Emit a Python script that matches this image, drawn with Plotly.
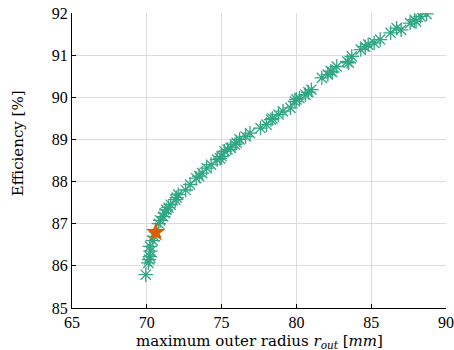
import plotly.graph_objects as go

r_out = [69.93, 70.1, 70.15, 70.2, 70.25, 70.2, 70.4, 70.5, 70.8, 70.9, 71.1, 71.2, 71.3, 71.45, 71.6, 71.9, 72.0, 72.1, 72.6, 72.9,
         73.3, 73.5, 73.7, 74.0, 74.3, 74.7, 74.9, 75.0, 75.2, 75.4, 75.6, 75.9, 76.0, 76.2, 76.6, 76.9,
         77.6, 78.0, 78.3, 78.4, 78.8, 79.1, 79.6, 79.9, 80.0, 80.2, 80.6, 80.8, 81.0,
         81.7, 82.1, 82.3, 82.4, 82.7, 83.4, 83.5, 83.7, 84.3, 84.6, 84.8, 85.2, 85.6,
         86.3, 86.7, 87.0, 87.6, 87.9, 88.0, 88.3, 88.7]
efficiency = [85.79, 86.07, 86.15, 86.22, 86.35, 86.46, 86.6, 86.7, 87.0, 87.08, 87.17, 87.25, 87.33, 87.38, 87.45, 87.57, 87.62, 87.69, 87.8, 87.93,
              88.08, 88.13, 88.2, 88.32, 88.4, 88.52, 88.55, 88.6, 88.72, 88.76, 88.8, 88.88, 88.92, 89.0, 89.07, 89.15,
              89.27, 89.35, 89.47, 89.5, 89.59, 89.67, 89.75, 89.9, 89.95, 89.98, 90.06, 90.12, 90.18,
              90.46, 90.54, 90.62, 90.6, 90.73, 90.85, 90.82, 90.97, 91.13, 91.2, 91.25, 91.29, 91.37,
              91.53, 91.64, 91.6, 91.76, 91.84, 91.8, 91.92, 91.98]
sel_r = [70.6]
sel_eff = [86.8]

x_ticks = [65, 70, 75, 80, 85, 90]
y_ticks = [85, 86, 87, 88, 89, 90, 91, 92]

fig = go.Figure()
fig.add_trace(go.Scatter(x=r_out, y=efficiency, mode="markers",
                         marker=dict(symbol="asterisk-open", size=12, color="#1b9e77",
                                     line=dict(color="#1b9e77", width=1.3)),
                         opacity=0.9, showlegend=False))
fig.add_trace(go.Scatter(x=sel_r, y=sel_eff, mode="markers",
                         marker=dict(symbol="star", size=15, color="#d95f02",
                                     line=dict(width=0)),
                         showlegend=False))

font = dict(family="Times New Roman, Liberation Serif, DejaVu Serif, serif", size=16, color="black")
title_font = dict(family="DejaVu Serif, serif", size=15, color="black")
fig.update_layout(
    width=454, height=350,
    margin=dict(l=72, r=8, t=13, b=42, autoexpand=False),
    paper_bgcolor="white", plot_bgcolor="white",
    font=font,
    annotations=[
        dict(text="maximum outer radius <i>r</i><sub><i>out</i></sub> [<i>mm</i>]",
             xref="paper", yref="paper", x=0.5, y=-0.115, xanchor="center", yanchor="middle",
             showarrow=False, font=title_font),
        dict(text="Efficiency [%]", xref="paper", yref="paper", x=-0.144, y=0.559,
             xanchor="center", yanchor="middle", textangle=-90, showarrow=False, font=title_font),
    ],
)
fig.update_xaxes(range=[65, 90], tickvals=x_ticks, ticks="inside", ticklen=4, tickcolor="black",
                 showline=True, linecolor="black", linewidth=1, mirror=False, automargin=False,
                 showgrid=True, gridcolor="#dcdcdc", gridwidth=1, zeroline=False,
                 tickfont=font)
fig.update_yaxes(range=[85, 92], tickvals=y_ticks, ticks="inside", ticklen=4, tickcolor="black",
                 showline=True, linecolor="black", linewidth=1, mirror=False, automargin=False,
                 showgrid=True, gridcolor="#dcdcdc", gridwidth=1, zeroline=False,
                 tickfont=font)

fig.write_html("out.html", config={"displayModeBar": False},
               post_script="document.body.style.margin='0';")
